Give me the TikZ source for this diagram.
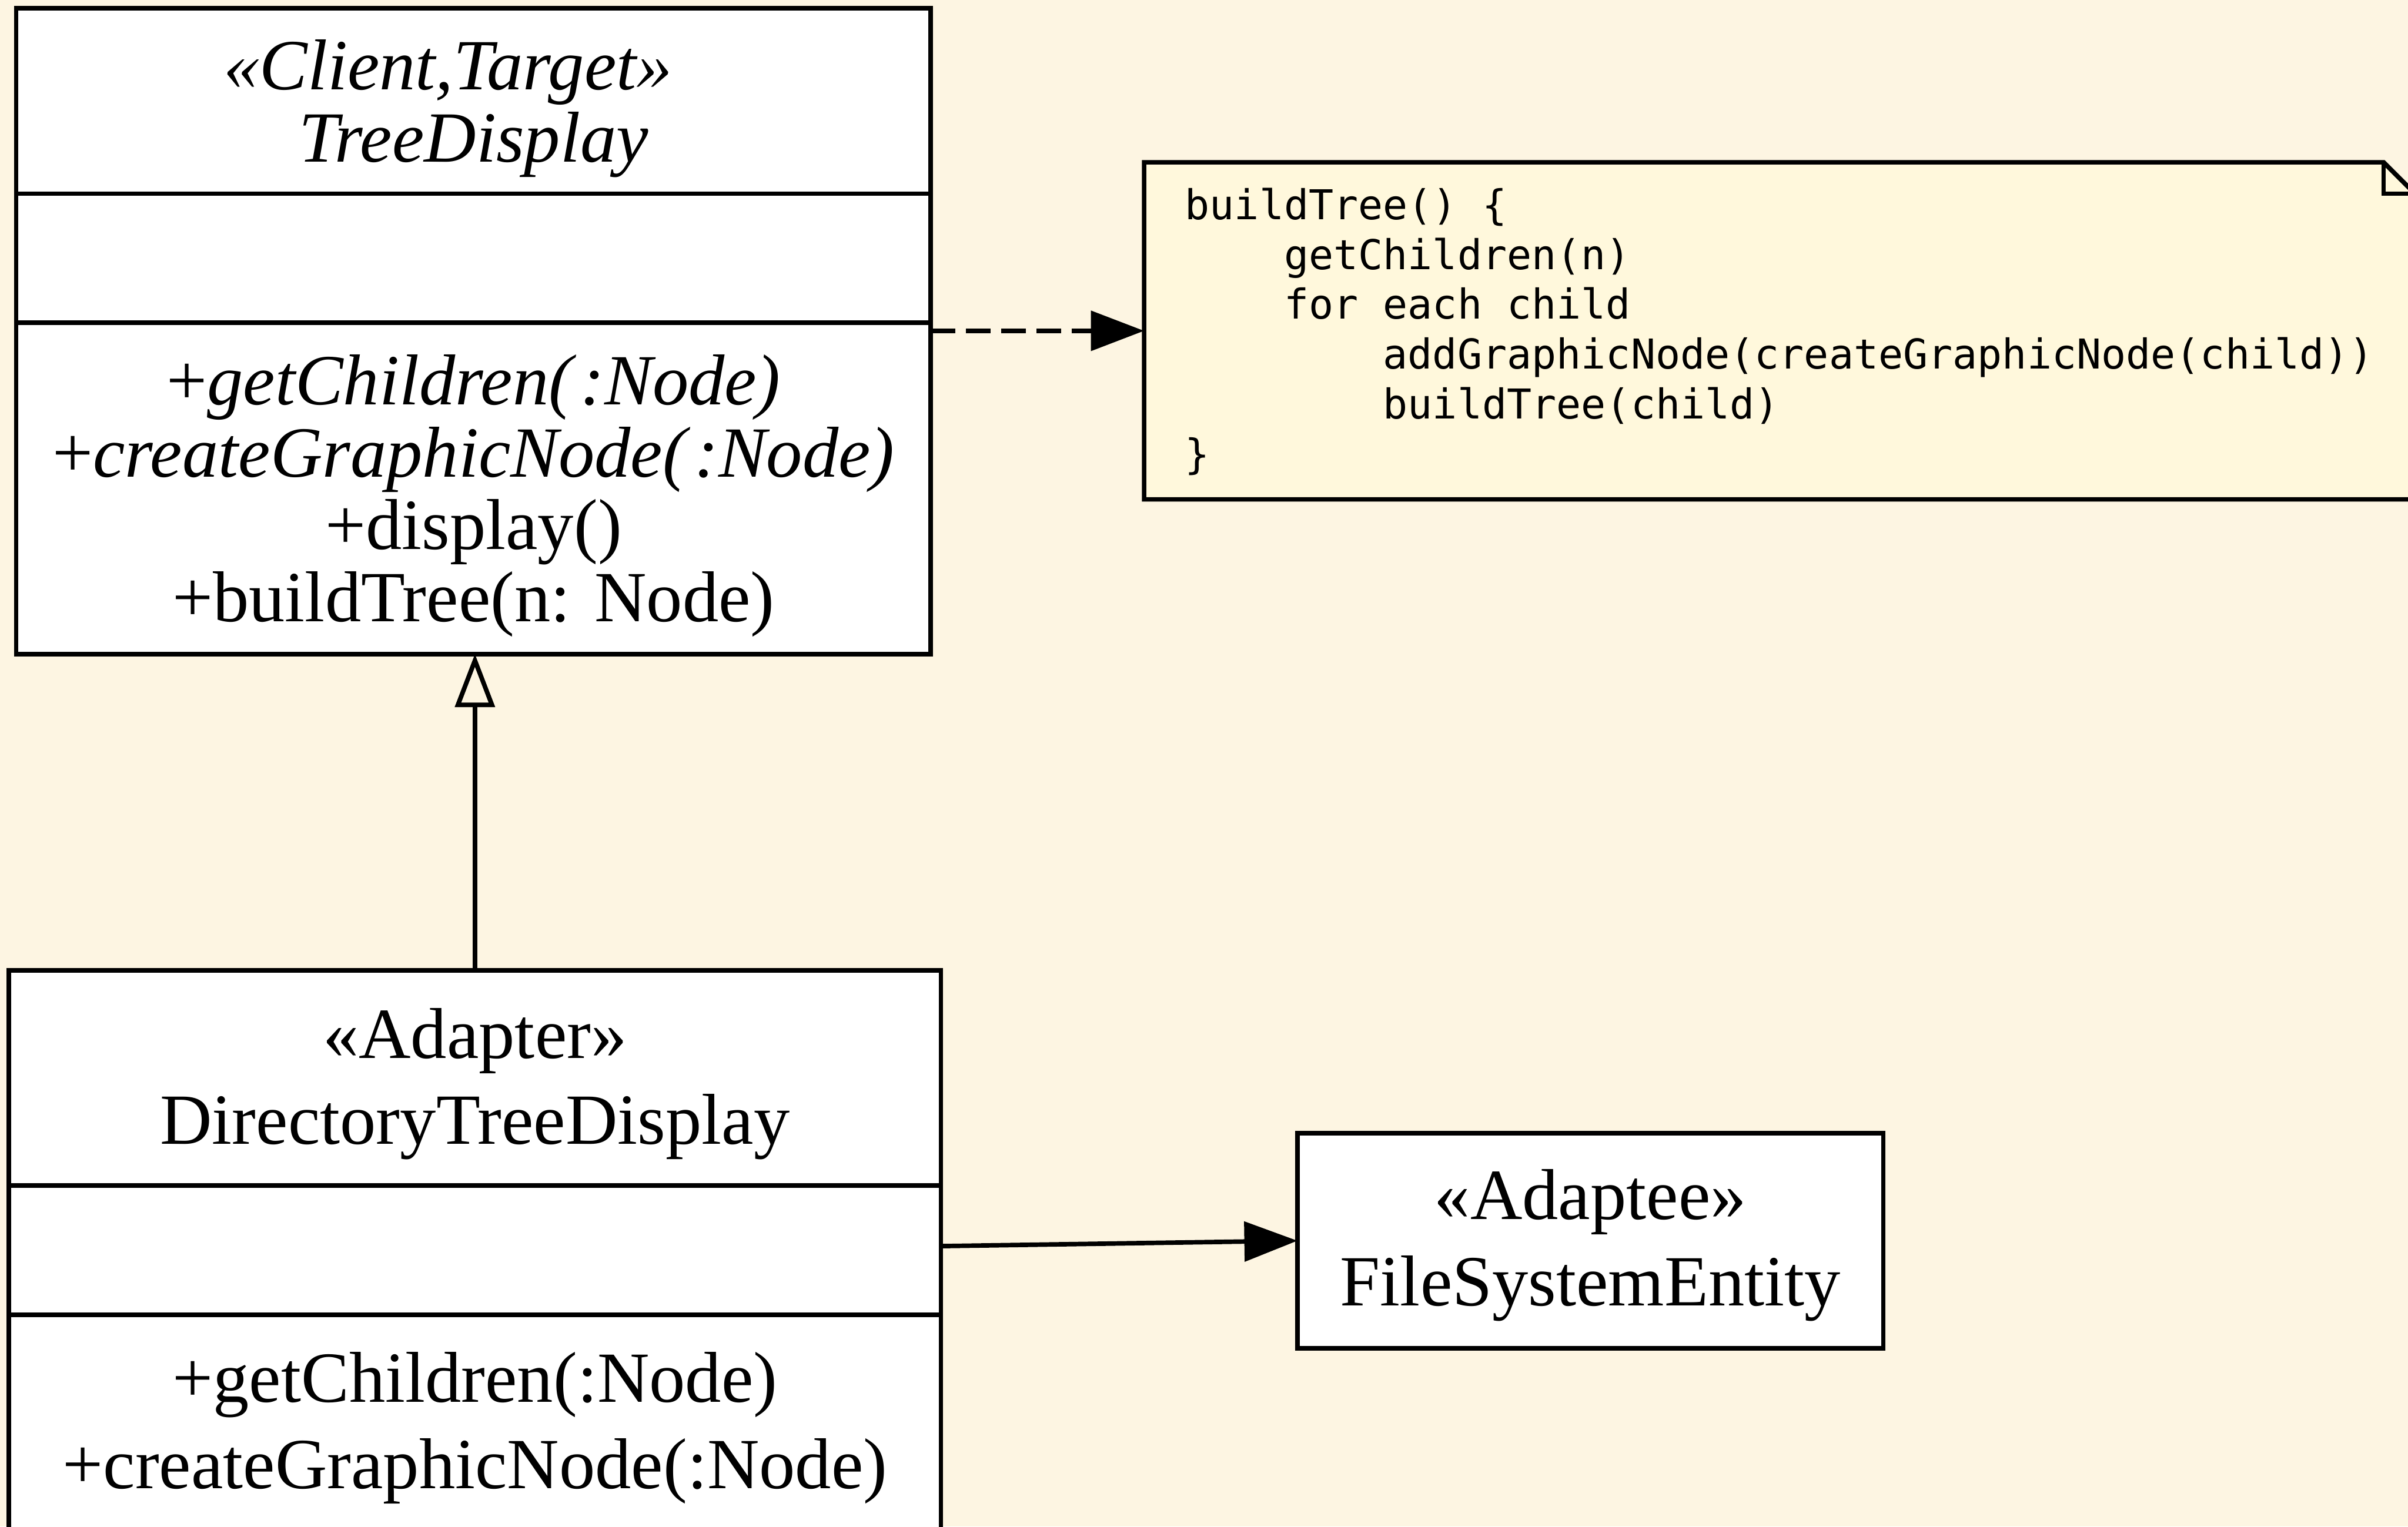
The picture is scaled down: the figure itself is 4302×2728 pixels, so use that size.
\documentclass[tikz,border=0pt]{standalone}
\usepackage{fontspec}
\setmainfont{Liberation Serif}
\newfontfamily\codefont{DejaVu Sans Mono}
\usetikzlibrary{arrows.meta}
\definecolor{paper}{HTML}{FDF5E2}
\definecolor{notefill}{HTML}{FFF8DC}
% indentation by a number of monospace character cells
\newcommand{\indentcells}[1]{\phantom{#1}}

\begin{document}
\begin{tikzpicture}[x=0.01cm, y=-0.01cm, line width=2.3pt,
  compart/.style={draw, fill=white, anchor=north west, inner sep=0pt, outer sep=0pt},
  tdfont/.style={align=center, inner sep=0pt, font=\fontsize{36.6pt}{36.7pt}\selectfont},
  dtdfont/.style={align=center, inner sep=0pt, font=\fontsize{36.6pt}{43.8pt}\selectfont},
  codetext/.style={anchor=north west, inner sep=0pt, outer sep=0pt, align=left,
    font=\codefont\fontsize{20.9pt}{25.3pt}\selectfont},
  gen/.style={-{Triangle[open, length=27pt, width=20pt]}},
  assoc/.style={-{Triangle[length=27pt, width=20pt]}},
  dep/.style={dash pattern=on 12.5pt off 5.4pt, -{Triangle[length=27pt, width=20pt]}}
]
\useasboundingbox (0,0) rectangle (4302,2728);
\clip (0,0) rectangle (4302,2728);
\fill[paper] (0,0) rectangle (4302,2728);

% TreeDisplay class
\node[compart, minimum width=16.33cm, minimum height=3.31cm] (td-name) at (29,15) {};
\node[compart, minimum width=16.33cm, minimum height=2.30cm] (td-attr) at (td-name.south west) {};
\node[compart, minimum width=16.33cm, minimum height=5.92cm] (td-ops) at (td-attr.south west) {};
\node[tdfont] (td-title) at ([yshift=-3.9pt]td-name.center)
  {\hspace*{-26pt}\textit{«Client,Target»}\\\textit{TreeDisplay}};
\node[tdfont] (td-methods) at ([yshift=-3.9pt]td-ops.center)
  {+\textit{getChildren(\kern4pt:Node)}\\+\textit{createGraphicNode(\kern4pt:Node)}\\+display()\\+buildTree(n: Node)};

% DirectoryTreeDisplay class
\node[compart, minimum width=16.64cm, minimum height=3.84cm] (dtd-name) at (16,1734) {};
\node[compart, minimum width=16.64cm, minimum height=2.31cm] (dtd-attr) at (dtd-name.south west) {};
\node[compart, minimum width=16.64cm, minimum height=3.86cm] (dtd-ops) at (dtd-attr.south west) {};
\node[dtdfont] (dtd-title) at ([yshift=-3.1pt]dtd-name.center) {«Adapter»\\DirectoryTreeDisplay};
\node[dtdfont] (dtd-methods) at ([yshift=-2.7pt]dtd-ops.center)
  {+getChildren(:Node)\\+createGraphicNode(:Node)};

% FileSystemEntity class
\node[compart, minimum width=10.46cm, minimum height=3.84cm] (fse) at (2318,2025) {};
\node[dtdfont] (fse-title) at ([yshift=-2.3pt]fse.center) {«Adaptee»\\FileSystemEntity};

% Note with folded corner
\node[anchor=north west, inner sep=0pt, outer sep=0pt, minimum width=22.69cm, minimum height=6.02cm] (note) at (2044,290) {};
\draw[fill=notefill] (note.north west) -- ([xshift=-0.56cm]note.north east)
  -- ([yshift=-0.56cm]note.north east) -- (note.south east) -- (note.south west) -- cycle;
\draw ([xshift=-0.56cm]note.north east) -- ([xshift=-0.56cm, yshift=-0.56cm]note.north east)
  -- ([yshift=-0.56cm]note.north east);
\node[codetext] (note-text) at ([xshift=0.73cm, yshift=-0.46cm]note.north west)
  {buildTree() \{\\
   \indentcells{xxxx}getChildren(n)\\
   \indentcells{xxxx}for each child\\
   \indentcells{xxxxxxxx}addGraphicNode(createGraphicNode(child))\\
   \indentcells{xxxxxxxx}buildTree(child)\\
   \}};

% Connectors
\draw[gen] (dtd-name.north) -- (dtd-name.north |- td-ops.south);
\draw[assoc] ([yshift=2pt]dtd-attr.east) -- (fse.west);
\draw[dep] (note.west -| td-ops.east) -- (note.west);
\end{tikzpicture}
\end{document}
